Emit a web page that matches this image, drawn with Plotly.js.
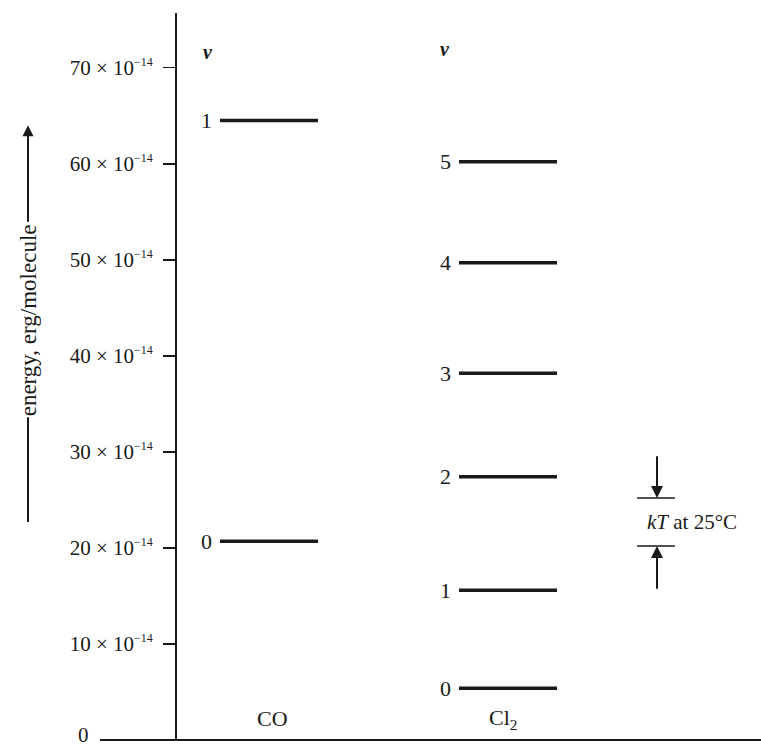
<!DOCTYPE html>
<html>
<head>
<meta charset="utf-8">
<script src="https://cdn.plot.ly/plotly-3.0.1.min.js"></script>
<style>html,body{margin:0;padding:0;background:#fff;}#chart{width:761px;height:746px;}</style>
</head>
<body>
<div id="chart"></div>
<script>
// ---- data (energies in units of 10^-14 erg/molecule) ----
const molecules = ["CO", "Cl<sub>2</sub>"];
const coLevels = [20.7, 64.5];
const coV = ["0", "1"];
const cl2Levels = [5.4, 15.6, 27.4, 38.2, 49.7, 60.2];
const cl2V = ["0", "1", "2", "3", "4", "5"];
const yTickVals = [10, 20, 30, 40, 50, 60, 70];
const yTickText = yTickVals.map(v => v + " × 10<sup><span style=\"font-size:12px\">−14</span></sup>");
const kTBand = [20.2, 25.2];   // kT at 25°C shown as the gap between two bars
const kTLabel = "<i>kT</i> at 25°C";
const yTitle = "energy, erg/molecule";

// ---- layout constants ----
const FONT = "Liberation Serif, Times New Roman, serif";
const INK = "#1a1a1a";
const colCenter = [92, 331];   // x positions of the CO and Cl2 columns
const halfW = 49;
const kTx = 480;

function levelTrace(levels, c) {
  const x = [], y = [];
  levels.forEach(e => { x.push(c - halfW, c + halfW, null); y.push(e, e, null); });
  return {x, y, type: "scatter", mode: "lines", line: {color: INK, width: 3.5}, hoverinfo: "skip", showlegend: false};
}

const traces = [levelTrace(coLevels, colCenter[0]), levelTrace(cl2Levels, colCenter[1])];

const annotations = [];
function levelLabels(levels, labels, c) {
  levels.forEach((e, i) => annotations.push({
    x: c - halfW - 6, y: e, xref: "x", yref: "y", text: labels[i], showarrow: false,
    xanchor: "right", yanchor: "middle", font: {family: FONT, size: 22, color: INK}
  }));
}
levelLabels(coLevels, coV, colCenter[0]);
levelLabels(cl2Levels, cl2V, colCenter[1]);

// v headers
[[31, 71.6], [268, 72.0]].forEach(p => annotations.push({
  x: p[0], y: p[1], xref: "x", yref: "y", text: "<b><i>v</i></b>", showarrow: false,
  font: {family: FONT, size: 20, color: INK}
}));
// molecule names
molecules.forEach((m, i) => annotations.push({
  x: colCenter[i] + (i === 0 ? 3 : -5), y: 2.2, xref: "x", yref: "y", text: m, showarrow: false,
  font: {family: FONT, size: 22, color: INK}
}));
// zero label at bottom-left
annotations.push({x: -0.148, y: 0.5, xref: "paper", yref: "y", text: "0", showarrow: false,
  xanchor: "right", yanchor: "middle", font: {family: FONT, size: 21, color: INK}});

// kT arrows
annotations.push({x: kTx, y: kTBand[1], ax: kTx, ay: kTBand[1] + 4.5, xref: "x", yref: "y", axref: "x", ayref: "y",
  text: "", showarrow: true, arrowhead: 2, arrowsize: 1.2, arrowwidth: 2, arrowcolor: INK});
annotations.push({x: kTx, y: kTBand[0], ax: kTx, ay: kTBand[0] - 4.6, xref: "x", yref: "y", axref: "x", ayref: "y",
  text: "", showarrow: true, arrowhead: 2, arrowsize: 1.2, arrowwidth: 2, arrowcolor: INK});
annotations.push({x: kTx - 12, y: (kTBand[0] + kTBand[1]) / 2, xref: "x", yref: "y", text: kTLabel,
  showarrow: false, xanchor: "left", yanchor: "middle", font: {family: FONT, size: 21, color: INK}});

// y title (rotated) with long arrow
const px = v => (v - 177) / 584;
annotations.push({x: px(28), y: 43.7, xref: "paper", yref: "y", text: yTitle, textangle: -90,
  showarrow: false, xanchor: "center", yanchor: "middle", font: {family: FONT, size: 23, color: INK}});
annotations.push({x: px(28), y: 64.0, xref: "paper", yref: "y", ax: 0, ay: 98, text: "",
  showarrow: true, arrowhead: 2, arrowsize: 1.1, arrowwidth: 2, arrowcolor: INK});

const shapes = [
  // baseline
  {type: "line", xref: "paper", yref: "paper", x0: px(100), x1: 1, y0: 0, y1: 0, line: {color: INK, width: 2}},
  // lower part of the y-title arrow line
  {type: "line", xref: "paper", yref: "y", x0: px(28), x1: px(28), y0: 22.7, y1: 33.6, line: {color: INK, width: 2}},
  // kT bars
  {type: "line", xref: "x", yref: "y", x0: kTx - 20, x1: kTx + 18, y0: kTBand[1], y1: kTBand[1], line: {color: INK, width: 1.5}},
  {type: "line", xref: "x", yref: "y", x0: kTx - 20, x1: kTx + 18, y0: kTBand[0], y1: kTBand[0], line: {color: INK, width: 1.5}}
];

const layout = {
  width: 761, height: 746,
  margin: {l: 177, r: 0, t: 13, b: 6, pad: 0},
  paper_bgcolor: "#fff", plot_bgcolor: "#fff",
  showlegend: false,
  xaxis: {range: [0, 584], visible: false, fixedrange: true},
  yaxis: {
    range: [0, 75.7], showgrid: false, zeroline: false, showline: true, linecolor: INK, linewidth: 2,
    ticks: "outside", ticklen: 12, tickwidth: 1.5, tickcolor: INK,
    tickvals: yTickVals, ticktext: yTickText, ticklabelstandoff: 6,
    tickfont: {family: FONT, size: 21, color: INK}, fixedrange: true
  },
  annotations, shapes
};

Plotly.newPlot("chart", traces, layout, {staticPlot: true, displayModeBar: false});
</script>
</body>
</html>
